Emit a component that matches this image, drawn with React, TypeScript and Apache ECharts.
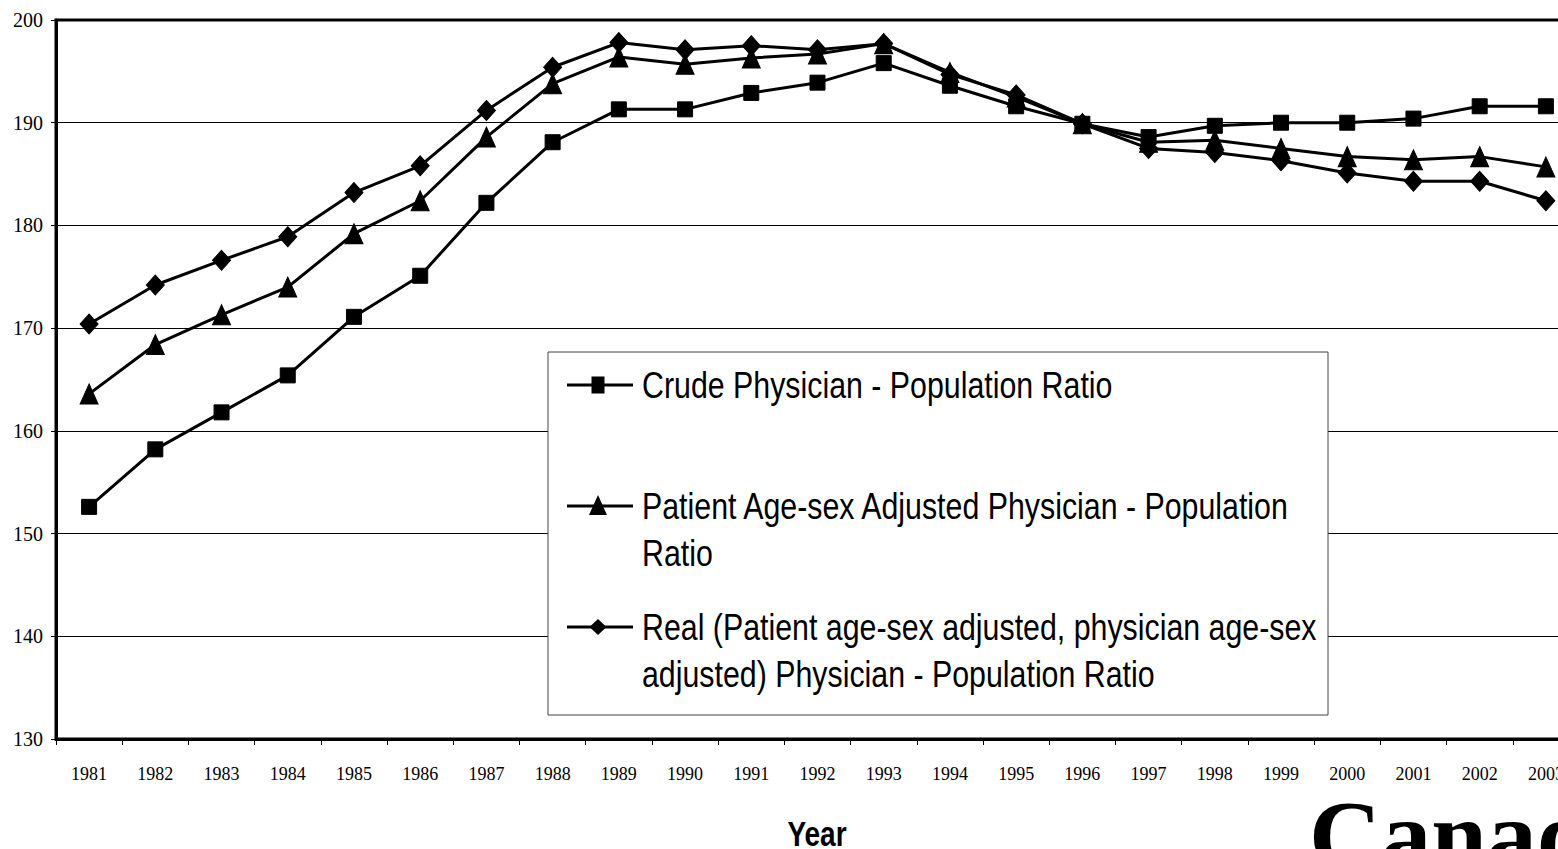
import React, { useEffect, useRef } from "react";
import * as echarts from "echarts";

const years = [
  "1981", "1982", "1983", "1984", "1985", "1986", "1987", "1988", "1989", "1990", "1991", "1992",
  "1993", "1994", "1995", "1996", "1997", "1998", "1999", "2000", "2001", "2002", "2003",
];

const crudeRatio = [
  152.6, 158.2, 161.8, 165.4, 171.1, 175.1, 182.2, 188.1, 191.3, 191.3, 192.9, 193.9,
  195.8, 193.6, 191.6, 189.9, 188.6, 189.7, 190.0, 190.0, 190.4, 191.6, 191.6,
];

const patientAdjustedRatio = [
  163.6, 168.4, 171.3, 174.0, 179.2, 182.4, 188.6, 193.8, 196.4, 195.7, 196.3, 196.7,
  197.7, 194.9, 192.5, 189.9, 188.1, 188.3, 187.5, 186.7, 186.4, 186.7, 185.7,
];

const realRatio = [
  170.4, 174.2, 176.6, 178.9, 183.2, 185.8, 191.2, 195.4, 197.8, 197.1, 197.5, 197.1,
  197.7, 194.7, 192.7, 189.9, 187.5, 187.1, 186.3, 185.1, 184.3, 184.3, 182.4,
];

const seriesNames = [
  "Crude Physician - Population Ratio",
  "Patient Age-sex Adjusted Physician - Population Ratio",
  "Real (Patient age-sex adjusted, physician age-sex adjusted) Physician - Population Ratio",
];

const legendTexts = [
  "Crude Physician - Population Ratio",
  "Patient Age-sex Adjusted Physician - Population\nRatio",
  "Real (Patient age-sex adjusted, physician age-sex\nadjusted) Physician - Population Ratio",
];

const xAxisTitle = "Year";
const logoText = "Canada";

const yMin = 130;
const yMax = 200;
const yInterval = 10;

const SANS = "'Liberation Sans', Arial, sans-serif";
const SERIF = "'Liberation Serif', 'Times New Roman', serif";

export default function App() {
  const ref = useRef<HTMLDivElement>(null);

  useEffect(() => {
    if (!ref.current) return;
    const chart = echarts.init(ref.current, undefined, { renderer: "svg" });

    const legendRowY = [385, 506, 627];
    const iconX1 = 567;
    const iconX2 = 633;
    const iconCx = 598;

    const graphics: any[] = [
      {
        type: "rect",
        shape: { x: 548, y: 352, width: 780, height: 363 },
        style: { fill: "#fff", stroke: "#444", lineWidth: 1 },
        z: 100,
      },
    ];
    legendTexts.forEach((t, i) => {
      const cy = legendRowY[i];
      graphics.push({
        type: "line",
        shape: { x1: iconX1, y1: cy, x2: iconX2, y2: cy },
        style: { stroke: "#000", lineWidth: 3 },
        z: 101,
      });
      if (i === 0) {
        graphics.push({
          type: "rect",
          shape: { x: iconCx - 6.5, y: cy - 8.5, width: 13, height: 17 },
          style: { fill: "#000" },
          z: 102,
        });
      } else if (i === 1) {
        graphics.push({
          type: "polygon",
          shape: { points: [[iconCx, cy - 11], [iconCx + 9, cy + 9], [iconCx - 9, cy + 9]] },
          style: { fill: "#000" },
          z: 102,
        });
      } else {
        graphics.push({
          type: "polygon",
          shape: { points: [[iconCx, cy - 8], [iconCx + 8.5, cy], [iconCx, cy + 8], [iconCx - 8.5, cy]] },
          style: { fill: "#000" },
          z: 102,
        });
      }
      graphics.push({
        type: "text",
        x: 642,
        y: cy - 23.5,
        scaleX: 0.82,
        style: {
          text: t,
          fontFamily: SANS,
          fontSize: 37,
          lineHeight: 47,
          fill: "#000",
          verticalAlign: "top",
          align: "left",
        },
        z: 102,
      });
    });

    graphics.push({
      type: "text",
      x: 817,
      y: 834,
      scaleX: 0.8,
      style: {
        text: xAxisTitle,
        fontFamily: SANS,
        fontWeight: "bold",
        fontSize: 35,
        fill: "#000",
        verticalAlign: "middle",
        align: "center",
      },
      z: 50,
    });

    graphics.push({
      type: "text",
      x: 1309,
      y: 785,
      style: {
        text: logoText,
        fontFamily: SERIF,
        fontWeight: "bold",
        fontSize: 100,
        fill: "#000",
        verticalAlign: "top",
        align: "left",
      },
      z: 50,
    });

    const symbols: any[] = [
      { symbol: "rect", symbolSize: 15 },
      { symbol: "triangle", symbolSize: [18, 20] },
      { symbol: "diamond", symbolSize: [18, 20] },
    ];
    const datasets = [crudeRatio, patientAdjustedRatio, realRatio];

    chart.setOption({
      animation: false,
      backgroundColor: "#fff",
      grid: {
        left: 56,
        top: 20,
        right: 21,
        bottom: 110,
        outerBoundsMode: "none",
        containLabel: false,
        show: true,
        borderColor: "#000",
        borderWidth: 3,
        backgroundColor: "transparent",
      },
      xAxis: {
        type: "category",
        data: years,
        boundaryGap: true,
        axisLine: { show: true, lineStyle: { color: "#000", width: 3 } },
        axisTick: { show: true, length: 6, lineStyle: { color: "#000", width: 1 } },
        axisLabel: { interval: 0, margin: 26, fontFamily: SERIF, fontSize: 18, color: "#000" },
        splitLine: { show: false },
      },
      yAxis: {
        type: "value",
        min: yMin,
        max: yMax,
        interval: yInterval,
        axisLine: { show: true, lineStyle: { color: "#000", width: 3 } },
        axisTick: { show: true, length: 5, lineStyle: { color: "#000", width: 1 } },
        axisLabel: { margin: 13, fontFamily: SERIF, fontSize: 20, color: "#000" },
        splitLine: { show: true, lineStyle: { color: "#000", width: 1 } },
      },
      graphic: graphics,
      series: datasets.map((d, i) => ({
        type: "line",
        name: seriesNames[i],
        data: d,
        symbol: symbols[i].symbol,
        symbolSize: symbols[i].symbolSize,
        showAllSymbol: true,
        lineStyle: { color: "#000", width: 3 },
        itemStyle: { color: "#000", borderColor: "#000" },
        z: 2 + i,
      })),
    });

    return () => chart.dispose();
  }, []);

  return (
    <div style={{ position: "fixed", left: 0, top: 0, width: 1558, height: 849, overflow: "hidden", background: "#fff" }}>
      <div ref={ref} style={{ width: 1600, height: 849 }} />
    </div>
  );
}
